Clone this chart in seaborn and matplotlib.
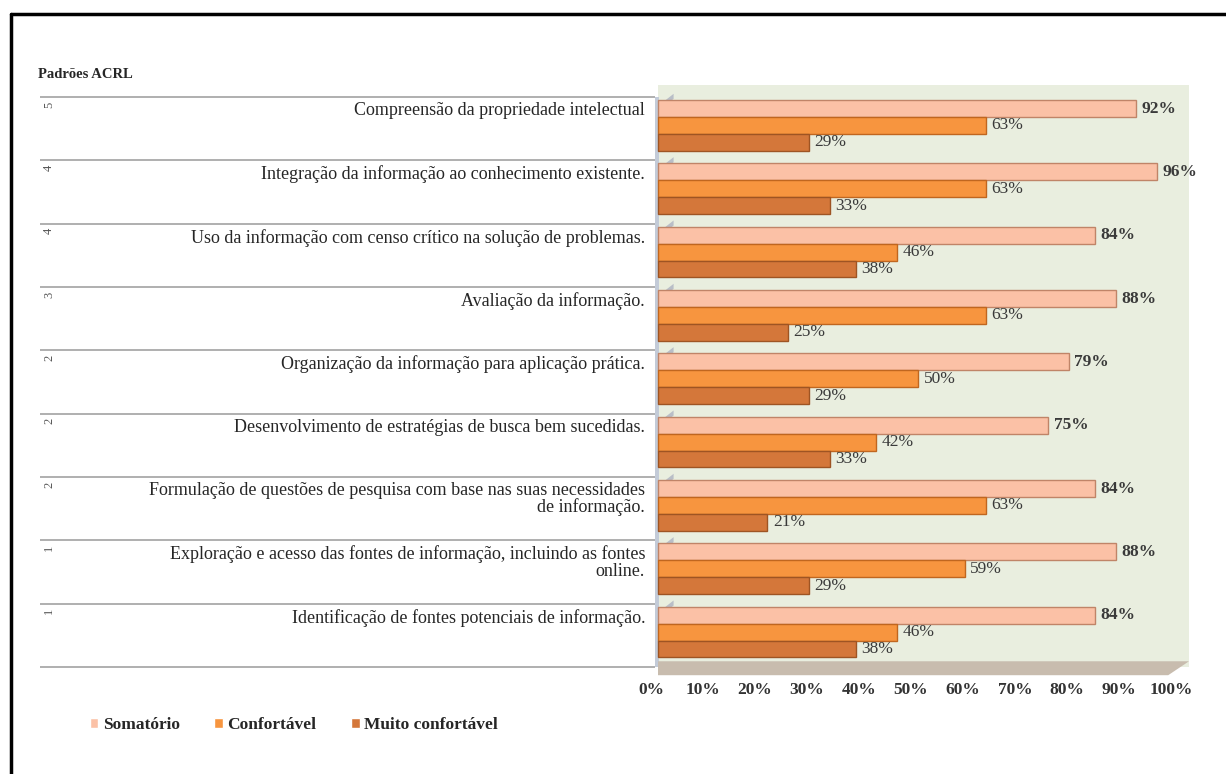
import matplotlib
matplotlib.use("Agg")
import matplotlib.pyplot as plt
import pandas as pd
import seaborn as sns
from matplotlib.lines import Line2D
from matplotlib.patches import Polygon, Rectangle
from matplotlib.transforms import ScaledTranslation

# ---- data -------------------------------------------------------------
padroes = ["5", "4", "4", "3", "2", "2", "2", "1", "1"]
competencias = [
    "Compreensão da propriedade intelectual",
    "Integração da informação ao conhecimento existente.",
    "Uso da informação com censo crítico na solução de problemas.",
    "Avaliação da informação.",
    "Organização da informação para aplicação prática.",
    "Desenvolvimento de estratégias de busca bem sucedidas.",
    "Formulação de questões de pesquisa com base nas suas necessidades\nde informação.",
    "Exploração e acesso das fontes de informação, incluindo as fontes\nonline.",
    "Identificação de fontes potenciais de informação.",
]
somatorio = [92, 96, 84, 88, 79, 75, 84, 88, 84]
confortavel = [63, 63, 46, 63, 50, 42, 63, 59, 46]
muito_confortavel = [29, 33, 38, 25, 29, 33, 21, 29, 38]
series = ["Somatório", "Confortável", "Muito confortável"]
x_ticks = [0, 10, 20, 30, 40, 50, 60, 70, 80, 90, 100]

cores = {"Somatório": "#fbc1a6", "Confortável": "#f7953f", "Muito confortável": "#d4773a"}
bordas = {"Somatório": "#c08468", "Confortável": "#c0661f", "Muito confortável": "#9e5423"}

rows = []
for i, comp in enumerate(competencias):
    for serie, vals in zip(series, [somatorio, confortavel, muito_confortavel]):
        rows.append({"linha": str(i), "serie": serie, "valor": vals[i]})
df = pd.DataFrame(rows)

# ---- figure -----------------------------------------------------------
sns.set_theme(style="white")
plt.rcParams["font.family"] = ["Liberation Serif", "DejaVu Serif"]

W, H = 1226, 774
fig = plt.figure(figsize=(W / 100, H / 100), dpi=100)


def frame(x0, y0, x1, y1):
    return [x0 / W, 1 - y1 / H, (x1 - x0) / W, (y1 - y0) / H]


PX_X = 5.2          # pixels per percentage point
PX_Y = 63.33        # pixels per category row
X0_PIX = 658
ROW_TOP = 97
ax_l, ax_r, ax_t, ax_b = 655, 1192, 85, 682
xlim = ((ax_l - X0_PIX) / PX_X, (ax_r - X0_PIX) / PX_X)
ylim = (-0.45 + (ax_b - ROW_TOP) / PX_Y, -0.45 - (ROW_TOP - ax_t) / PX_Y)

ax = fig.add_axes(frame(ax_l, ax_t, ax_r, ax_b))
axl = fig.add_axes(frame(40, ax_t, 655, ax_b))

sns.barplot(data=df, y="linha", x="valor", hue="serie", hue_order=series,
            palette=cores, orient="h", width=0.8, saturation=1,
            ax=ax, zorder=3)

for serie, cont in zip(series, ax.containers):
    for bar in cont:
        bar.set_edgecolor(bordas[serie])
        bar.set_linewidth(1.0)
    ax.bar_label(cont, labels=[f"{b.get_width():.0f}%" for b in cont],
                 padding=4, fontsize=12.5, color="#3a3a3a",
                 fontweight="bold" if serie == "Somatório" else "normal")

ax.set_xlim(*xlim)
ax.set_ylim(*ylim)
ax.set_facecolor("none")
for s in ax.spines.values():
    s.set_visible(False)
ax.set_ylabel("")
ax.set_xlabel("")
ax.set_yticks([])

# back wall, side wall and floor of the plot area
panel_right = (1189 - X0_PIX) / PX_X
ax.add_patch(Rectangle((0, ylim[1]), panel_right, 8.55 - ylim[1],
                       facecolor="#e9eedf", edgecolor="none", zorder=0))
ax.add_patch(Rectangle((xlim[0], -0.45), -xlim[0] + 0.2, 9.0,
                       facecolor="#c3cbd8", edgecolor="none", zorder=1))
ax.add_patch(Polygon([(0, 8.46), (panel_right, 8.46),
                      (panel_right - 4.0, 8.68), (0, 8.68)],
                     closed=True, facecolor="#c8bcae", edgecolor="none", zorder=1))
for i in range(9):
    yb = i - 0.45
    ax.add_patch(Polygon([(0.2, yb + 0.13), (3.0, yb - 0.05),
                          (3.0, yb + 0.03), (0.2, yb + 0.21)],
                         closed=True, facecolor="#b9bec7", edgecolor="none", zorder=1))

ax.set_xticks(x_ticks)
ax.set_xticklabels([f"{t}%" for t in x_ticks], fontsize=12.5,
                   fontweight="bold", color="#333333")
ax.tick_params(axis="x", length=0, pad=0)
shift = ScaledTranslation(-7 / 100, 0, fig.dpi_scale_trans)
for lab in ax.get_xticklabels():
    lab.set_transform(lab.get_transform() + shift)

# ---- category table on the left ----------------------------------------
axl.set_xlim(0, 615)
axl.set_ylim(*ylim)
axl.axis("off")
for i in range(10):
    axl.axhline(i - 0.45, xmin=0, xmax=1, color="#a9a9a9", lw=1.3)
for i, (num, comp) in enumerate(zip(padroes, competencias)):
    axl.text(605, i - 0.45 + 0.08, comp, ha="right", va="top",
             multialignment="right", fontsize=13, color="#262626",
             linespacing=0.95)
    axl.text(9, i - 0.45 + 0.07, num, ha="center", va="top", rotation=90,
             fontsize=9, color="#555555")

# ---- legend, title and frame --------------------------------------------
sns.move_legend(ax, "center left", bbox_to_anchor=(74 / W, 1 - 725 / H),
                bbox_transform=fig.transFigure, ncol=3, frameon=False,
                title=None, handlelength=0.5, handleheight=0.5,
                handletextpad=0.25, columnspacing=2.0,
                prop={"family": "Liberation Serif", "weight": "bold", "size": 12.5})

fig.text(38 / W, 1 - 75 / H, "Padrões ACRL", fontsize=10.5,
         fontweight="bold", color="#262626", va="center", ha="left")

fig.add_artist(Line2D([11 / W, 11 / W], [0, 1 - 14 / H], color="black",
                      lw=2.5, transform=fig.transFigure))
fig.add_artist(Line2D([11 / W, 1], [1 - 14 / H, 1 - 14 / H], color="black",
                      lw=2.5, transform=fig.transFigure))

fig.savefig("out.png", dpi=100)
